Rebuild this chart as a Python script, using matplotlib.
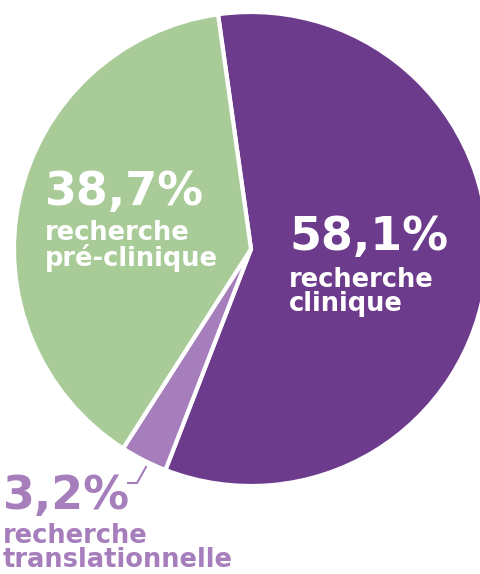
import matplotlib.pyplot as plt

# part des dépenses de recherche
labels = ['recherche\nclinique', 'recherche\ntranslationnelle', 'recherche\npré-clinique']
values = [58.1, 3.2, 38.7]
pct_text = ['58,1%', '3,2%', '38,7%']
colors = ['#6C3B8C', '#A57EBB', '#A8CB98']

W, H = 480, 574
fig = plt.figure(figsize=(W / 100, H / 100), dpi=100)
ax = fig.add_axes([0, 0, 1, 1])

cx, cy, r = 251, 249, 237
ax.pie(values, colors=colors, startangle=98, counterclock=False,
       center=(cx, H - cy), radius=r,
       wedgeprops=dict(edgecolor='white', linewidth=3))
ax.set_xlim(0, W)
ax.set_ylim(0, H)
ax.set_aspect('equal')
ax.axis('off')

font = ['DejaVu Sans']
big = 33
small = 18.5

# 58,1% recherche clinique
ax.text(289, H - 250, pct_text[0], color='white', fontsize=big, fontweight='bold', family=font)
ax.text(289, H - 287, 'recherche', color='white', fontsize=small, fontweight='bold', family=font)
ax.text(289, H - 311, 'clinique', color='white', fontsize=small, fontweight='bold', family=font)

# 38,7% recherche pré-clinique
ax.text(45, H - 205, pct_text[2], color='white', fontsize=big, fontweight='bold', family=font)
ax.text(45, H - 240, 'recherche', color='white', fontsize=small, fontweight='bold', family=font)
ax.text(45, H - 266, 'pré-clinique', color='white', fontsize=small, fontweight='bold', family=font)

# 3,2% recherche translationnelle
ax.text(3, H - 509, pct_text[1], color=colors[1], fontsize=big, fontweight='bold', family=font)
ax.text(3, H - 543, 'recherche', color=colors[1], fontsize=small, fontweight='bold', family=font)
ax.text(3, H - 567, 'translationnelle', color=colors[1], fontsize=small, fontweight='bold', family=font)
ax.plot([128, 137, 146], [H - 483, H - 483, H - 467], color=colors[1], lw=1.5)

fig.savefig('out.png', dpi=100)
